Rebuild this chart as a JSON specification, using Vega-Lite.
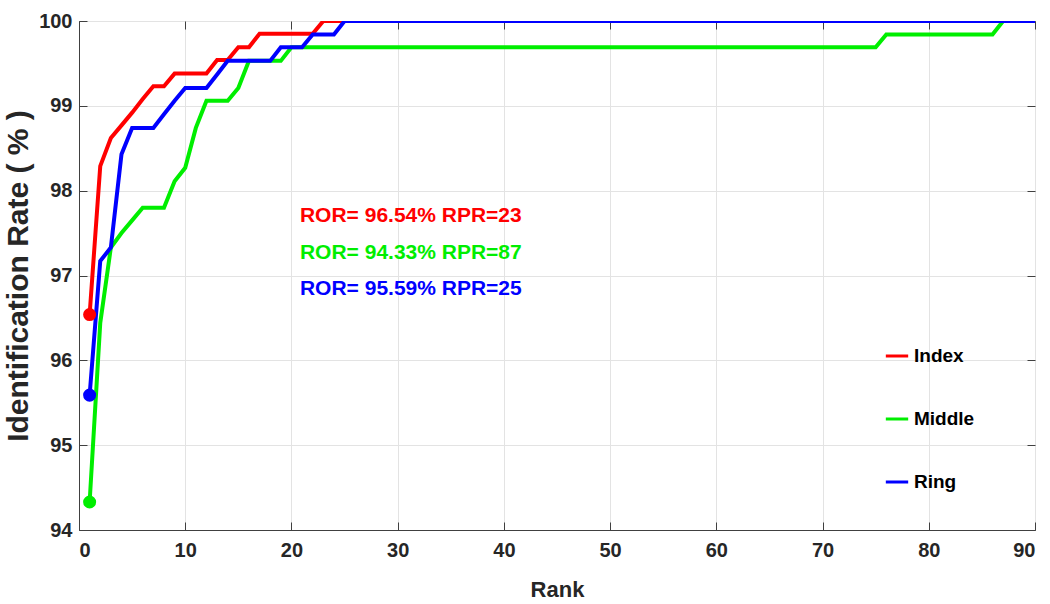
{
  "$schema": "https://vega.github.io/schema/vega-lite/v6.json",
  "width": 956,
  "height": 509,
  "autosize": "none",
  "padding": {"left": 79, "top": 21, "right": 15, "bottom": 74},
  "background": "white",
  "config": {
    "font": "Liberation Sans",
    "view": {"stroke": "#404040", "strokeWidth": 1},
    "axis": {
      "labelFont": "Liberation Sans",
      "labelFontWeight": "bold",
      "labelFontSize": 20,
      "labelColor": "#262626",
      "titleFont": "Liberation Sans",
      "titleFontWeight": "bold",
      "titleFontSize": 22,
      "titleColor": "#262626",
      "gridColor": "#e3e3e3",
      "gridWidth": 1,
      "domainColor": "#404040",
      "tickColor": "#404040",
      "tickSize": -8
    }
  },
  "resolve": {"axis": {"x": "independent", "y": "independent"}},
  "datasets": {
    "curves": [
      {"rank": 1, "rate": 96.54, "finger": "Index"},
      {"rank": 2, "rate": 98.29, "finger": "Index"},
      {"rank": 3, "rate": 98.62, "finger": "Index"},
      {"rank": 4, "rate": 98.77, "finger": "Index"},
      {"rank": 5, "rate": 98.92, "finger": "Index"},
      {"rank": 6, "rate": 99.08, "finger": "Index"},
      {"rank": 7, "rate": 99.23, "finger": "Index"},
      {"rank": 8, "rate": 99.23, "finger": "Index"},
      {"rank": 9, "rate": 99.38, "finger": "Index"},
      {"rank": 12, "rate": 99.38, "finger": "Index"},
      {"rank": 13, "rate": 99.54, "finger": "Index"},
      {"rank": 14, "rate": 99.54, "finger": "Index"},
      {"rank": 15, "rate": 99.69, "finger": "Index"},
      {"rank": 16, "rate": 99.69, "finger": "Index"},
      {"rank": 17, "rate": 99.85, "finger": "Index"},
      {"rank": 22, "rate": 99.85, "finger": "Index"},
      {"rank": 23, "rate": 100, "finger": "Index"},
      {"rank": 90, "rate": 100, "finger": "Index"},
      {"rank": 1, "rate": 94.33, "finger": "Middle"},
      {"rank": 2, "rate": 96.44, "finger": "Middle"},
      {"rank": 3, "rate": 97.33, "finger": "Middle"},
      {"rank": 4, "rate": 97.5, "finger": "Middle"},
      {"rank": 5, "rate": 97.65, "finger": "Middle"},
      {"rank": 6, "rate": 97.8, "finger": "Middle"},
      {"rank": 8, "rate": 97.8, "finger": "Middle"},
      {"rank": 9, "rate": 98.11, "finger": "Middle"},
      {"rank": 10, "rate": 98.27, "finger": "Middle"},
      {"rank": 11, "rate": 98.74, "finger": "Middle"},
      {"rank": 12, "rate": 99.06, "finger": "Middle"},
      {"rank": 14, "rate": 99.06, "finger": "Middle"},
      {"rank": 15, "rate": 99.21, "finger": "Middle"},
      {"rank": 16, "rate": 99.53, "finger": "Middle"},
      {"rank": 19, "rate": 99.53, "finger": "Middle"},
      {"rank": 20, "rate": 99.69, "finger": "Middle"},
      {"rank": 75, "rate": 99.69, "finger": "Middle"},
      {"rank": 76, "rate": 99.84, "finger": "Middle"},
      {"rank": 86, "rate": 99.84, "finger": "Middle"},
      {"rank": 87, "rate": 100, "finger": "Middle"},
      {"rank": 90, "rate": 100, "finger": "Middle"},
      {"rank": 1, "rate": 95.59, "finger": "Ring"},
      {"rank": 2, "rate": 97.17, "finger": "Ring"},
      {"rank": 3, "rate": 97.33, "finger": "Ring"},
      {"rank": 4, "rate": 98.43, "finger": "Ring"},
      {"rank": 5, "rate": 98.74, "finger": "Ring"},
      {"rank": 7, "rate": 98.74, "finger": "Ring"},
      {"rank": 8, "rate": 98.9, "finger": "Ring"},
      {"rank": 9, "rate": 99.06, "finger": "Ring"},
      {"rank": 10, "rate": 99.21, "finger": "Ring"},
      {"rank": 12, "rate": 99.21, "finger": "Ring"},
      {"rank": 13, "rate": 99.37, "finger": "Ring"},
      {"rank": 14, "rate": 99.53, "finger": "Ring"},
      {"rank": 18, "rate": 99.53, "finger": "Ring"},
      {"rank": 19, "rate": 99.69, "finger": "Ring"},
      {"rank": 21, "rate": 99.69, "finger": "Ring"},
      {"rank": 22, "rate": 99.84, "finger": "Ring"},
      {"rank": 24, "rate": 99.84, "finger": "Ring"},
      {"rank": 25, "rate": 100, "finger": "Ring"},
      {"rank": 90, "rate": 100, "finger": "Ring"}
    ],
    "notes": [
      {"rank": 20.8, "rate": 97.7, "finger": "Index", "label": "ROR= 96.54% RPR=23"},
      {"rank": 20.8, "rate": 97.27, "finger": "Middle", "label": "ROR= 94.33% RPR=87"},
      {"rank": 20.8, "rate": 96.84, "finger": "Ring", "label": "ROR= 95.59% RPR=25"}
    ]
  },
  "layer": [
    {
      "data": {"name": "curves"},
      "mark": {"type": "line", "strokeWidth": 4, "clip": true},
      "encoding": {
        "x": {"field": "rank", "type": "quantitative", "scale": {"domain": [0, 90], "nice": false},
              "axis": {"title": "Rank", "values": [0,10,20,30,40,50,60,70,80,90], "format": "d", "labelPadding": 18, "titlePadding": 19}},
        "y": {"field": "rate", "type": "quantitative", "scale": {"domain": [94, 100], "nice": false, "zero": false},
              "axis": {"title": "Identification Rate ( % )", "values": [94,95,96,97,98,99,100], "format": "d", "labelPadding": 15, "titlePadding": 5, "titleFontSize": 30}},
        "color": {"field": "finger", "type": "nominal",
                  "scale": {"domain": ["Index", "Middle", "Ring"], "range": ["#ff0000", "#00ee00", "#0000ff"]},
                  "legend": {"title": null, "orient": "none", "legendX": 805, "legendY": 322,
                             "symbolType": "stroke", "symbolSize": 500, "symbolStrokeWidth": 3,
                             "labelFontSize": 19, "labelFontWeight": "bold", "labelColor": "#000000",
                             "labelFont": "Liberation Sans", "rowPadding": 40, "labelOffset": 4}}
      }
    },
    {
      "data": {"name": "curves"},
      "transform": [{"filter": "datum.rank == 1"}],
      "mark": {"type": "point", "filled": true, "opacity": 1, "size": 170, "shape": "circle"},
      "encoding": {
        "x": {"field": "rank", "type": "quantitative",
              "axis": {"orient": "top", "title": null, "labels": false, "grid": false, "domain": false, "values": [0,10,20,30,40,50,60,70,80,90]}},
        "y": {"field": "rate", "type": "quantitative",
              "axis": {"orient": "right", "title": null, "labels": false, "grid": false, "domain": false, "values": [94,95,96,97,98,99,100]}},
        "color": {"field": "finger", "type": "nominal", "legend": null}
      }
    },
    {
      "data": {"name": "notes"},
      "mark": {"type": "text", "align": "left", "baseline": "middle", "fontSize": 21, "fontWeight": "bold", "font": "Liberation Sans"},
      "encoding": {
        "x": {"field": "rank", "type": "quantitative", "axis": null},
        "y": {"field": "rate", "type": "quantitative", "axis": null},
        "text": {"field": "label"},
        "color": {"field": "finger", "type": "nominal", "legend": null}
      }
    }
  ]
}
